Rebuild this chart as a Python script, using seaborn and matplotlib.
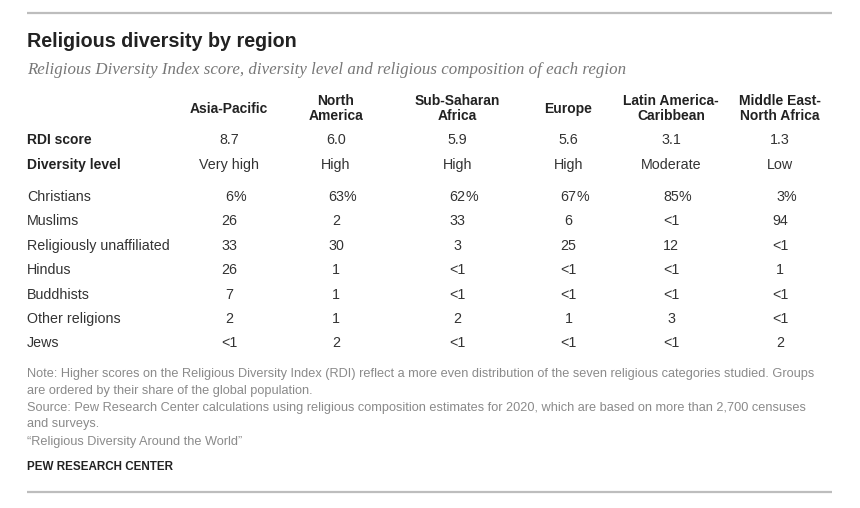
import matplotlib
matplotlib.use("Agg")
import matplotlib.pyplot as plt
import seaborn as sns

# ---------------- data ----------------
regions = ["Asia-Pacific", "North America", "Sub-Saharan Africa", "Europe",
           "Latin America-Caribbean", "Middle East-North Africa"]
header_lines = [["Asia-Pacific"], ["North", "America"], ["Sub-Saharan", "Africa"],
                ["Europe"], ["Latin America-", "Caribbean"], ["Middle East-", "North Africa"]]
rdi_score = ["8.7", "6.0", "5.9", "5.6", "3.1", "1.3"]
diversity_level = ["Very high", "High", "High", "High", "Moderate", "Low"]
groups = ["Christians", "Muslims", "Religiously unaffiliated", "Hindus",
          "Buddhists", "Other religions", "Jews"]
christians = ["6", "63", "62", "67", "85", "3"]
muslims = ["26", "2", "33", "6", "<1", "94"]
unaffiliated = ["33", "30", "3", "25", "12", "<1"]
hindus = ["26", "1", "<1", "<1", "<1", "1"]
buddhists = ["7", "1", "<1", "<1", "<1", "<1"]
other_religions = ["2", "1", "2", "1", "3", "<1"]
jews = ["<1", "2", "<1", "<1", "<1", "2"]
shares = [christians, muslims, unaffiliated, hindus, buddhists, other_religions, jews]

title = "Religious diversity by region"
subtitle = ("Religious Diversity Index score, diversity level and religious "
            "composition of each region")
notes = [
    "Note: Higher scores on the Religious Diversity Index (RDI) reflect a more even "
    "distribution of the seven religious categories studied. Groups",
    "are ordered by their share of the global population.",
    "Source: Pew Research Center calculations using religious composition estimates "
    "for 2020, which are based on more than 2,700 censuses",
    "and surveys.",
    "\u201cReligious Diversity Around the World\u201d",
]
credit = "PEW RESEARCH CENTER"

# ---------------- style / layout ----------------
sns.set_theme(style="white")
plt.rcParams["font.family"] = ["Liberation Sans", "DejaVu Sans"]

W, H = 860, 508
fig = plt.figure(figsize=(W / 100, H / 100), dpi=100)
ax = fig.add_axes([0, 0, 1, 1])
ax.set_xlim(0, W)
ax.set_ylim(H, 0)
ax.axis("off")

LEFT = 27
RIGHT = 832
col_x = [229, 336, 457.5, 568.5, 671, 780]
dark = "#222222"
body = "#333333"
grey = "#8a8a8a"
sub_grey = "#777777"
rule = "#bdbdbd"

# rules
ax.plot([LEFT, RIGHT], [13, 13], color=rule, lw=1.6, solid_capstyle="butt")
ax.plot([LEFT, RIGHT], [492, 492], color=rule, lw=1.6, solid_capstyle="butt")

# title & subtitle
ax.text(LEFT, 47, title, fontsize=14.2, fontweight="bold", color=dark,
        ha="left", va="baseline")
ax.text(LEFT, 74, subtitle, fontsize=12.2, style="italic", color=sub_grey,
        family=["Liberation Serif", "DejaVu Serif"], ha="left", va="baseline")

# column headers
for x, lines in zip(col_x, header_lines):
    if len(lines) == 1:
        ax.text(x, 113, lines[0], fontsize=10, fontweight="bold", color=dark,
                ha="center", va="baseline")
    else:
        ax.text(x, 105, lines[0], fontsize=10, fontweight="bold", color=dark,
                ha="center", va="baseline")
        ax.text(x, 120, lines[1], fontsize=10, fontweight="bold", color=dark,
                ha="center", va="baseline")

FS = 10.3
# RDI score & diversity level
ax.text(LEFT, 144, "RDI score", fontsize=10, fontweight="bold", color=dark,
        ha="left", va="baseline")
ax.text(LEFT, 169, "Diversity level", fontsize=10, fontweight="bold", color=dark,
        ha="left", va="baseline")
for x, s, d in zip(col_x, rdi_score, diversity_level):
    ax.text(x, 144, s, fontsize=FS, color=body, ha="center", va="baseline")
    ax.text(x, 169, d, fontsize=FS, color=body, ha="center", va="baseline")

# religious composition
row0 = 201
dy = 24.4
for i, (g, vals) in enumerate(zip(groups, shares)):
    y = row0 + i * dy
    ax.text(LEFT, y, g, fontsize=FS, color=body, ha="left", va="baseline")
    for x, v in zip(col_x, vals):
        t = ax.text(x, y, v, fontsize=FS, color=body, ha="center", va="baseline")
        if i == 0:
            ax.annotate("%", xy=(1, 0), xycoords=t, fontsize=FS, color=body,
                        ha="left", va="bottom")

# notes
note_y = [377, 394, 411, 427, 445]
for y, line in zip(note_y, notes):
    ax.text(LEFT, y, line, fontsize=9.2, color=grey, ha="left", va="baseline")
ax.text(LEFT, 470, credit, fontsize=8.4, fontweight="bold", color=dark,
        ha="left", va="baseline")

fig.savefig("out.png", dpi=100, facecolor="white")
